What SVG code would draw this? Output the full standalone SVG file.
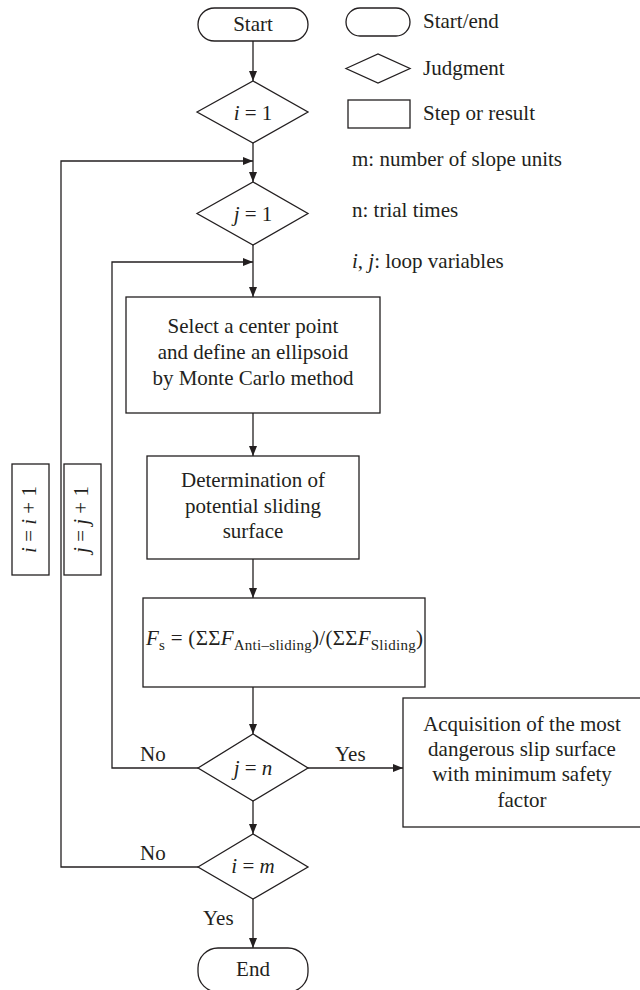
<svg xmlns="http://www.w3.org/2000/svg" width="640" height="990" viewBox="0 0 640 990">
<defs>
<style>
.s{fill:#fff;stroke:#231f20;stroke-width:1.3}
.c{fill:none;stroke:#231f20;stroke-width:1.3}
text{font-family:"Liberation Serif","Times New Roman",serif;font-size:21px;fill:#231f20}
.m{text-anchor:middle}
.i{font-style:italic}
.sub{font-size:15px}
</style>
<marker id="a" markerUnits="userSpaceOnUse" markerWidth="10" markerHeight="8" refX="10" refY="4" orient="auto">
<path d="M0,0 L10,4 L0,8 z" fill="#231f20"/>
</marker>
</defs>
<rect width="640" height="990" fill="#fff"/>

<g id="connectors">
<path class="c" d="M253,41 V81" marker-end="url(#a)"/>
<path class="c" d="M253,143 V182" marker-end="url(#a)"/>
<path class="c" d="M198,867 H61 V161 H253" marker-end="url(#a)"/>
<path class="c" d="M253,245 V297" marker-end="url(#a)"/>
<path class="c" d="M198,768 H112 V262 H253" marker-end="url(#a)"/>
<path class="c" d="M253,413 V456" marker-end="url(#a)"/>
<path class="c" d="M253,559 V598" marker-end="url(#a)"/>
<path class="c" d="M253,687 V734" marker-end="url(#a)"/>
<path class="c" d="M308,768 H403" marker-end="url(#a)"/>
<path class="c" d="M253,801 V834" marker-end="url(#a)"/>
<path class="c" d="M253,899 V948" marker-end="url(#a)"/>
<text x="140" y="761">No</text>
<text x="335" y="761">Yes</text>
<text x="140" y="860">No</text>
<text x="203" y="925">Yes</text>
</g>

<g id="start">
<rect class="s" x="198" y="8" width="110" height="33" rx="16.5"/>
<text class="m" x="253" y="31">Start</text>
</g>
<g id="i1">
<polygon class="s" points="197,112 253,81 308,112 253,143"/>
<text class="m" x="253" y="120"><tspan class="i">i</tspan> = 1</text>
</g>
<g id="j1">
<polygon class="s" points="197,213.5 253,182 308,213.5 253,245"/>
<text class="m" x="253" y="221"><tspan class="i">j</tspan> = 1</text>
</g>
<g id="select">
<rect class="s" x="126" y="297" width="254" height="116"/>
<text class="m" x="253" y="333">Select a center point</text>
<text class="m" x="253" y="359">and define an ellipsoid</text>
<text class="m" x="253" y="385">by Monte Carlo method</text>
</g>
<g id="determine">
<rect class="s" x="147" y="456" width="212" height="103"/>
<text class="m" x="253" y="487">Determination of</text>
<text class="m" x="253" y="513">potential sliding</text>
<text class="m" x="253" y="538">surface</text>
</g>
<g id="fs">
<rect class="s" x="143" y="598" width="282" height="89"/>
<text x="146" y="645" textLength="277" lengthAdjust="spacing"><tspan class="i">F</tspan><tspan class="sub" dy="5">s</tspan><tspan dy="-5"> = (ΣΣ</tspan><tspan class="i">F</tspan><tspan class="sub" dy="5">Anti–sliding</tspan><tspan dy="-5">)/(ΣΣ</tspan><tspan class="i">F</tspan><tspan class="sub" dy="5">Sliding</tspan><tspan dy="-5">)</tspan></text>
</g>
<g id="jn">
<polygon class="s" points="198,768 253,734 308,768 253,801"/>
<text class="m" x="253" y="775"><tspan class="i">j</tspan> = <tspan class="i">n</tspan></text>
</g>
<g id="result">
<rect class="s" x="403" y="698" width="240" height="129"/>
<text class="m" x="522" y="731">Acquisition of the most</text>
<text class="m" x="522" y="756">dangerous slip surface</text>
<text class="m" x="522" y="781">with minimum safety</text>
<text class="m" x="522" y="807">factor</text>
</g>
<g id="im">
<polygon class="s" points="198,867 253,834 308,867 253,899"/>
<text class="m" x="253" y="873"><tspan class="i">i</tspan> = <tspan class="i">m</tspan></text>
</g>
<g id="end">
<rect class="s" x="198" y="948" width="110" height="44" rx="20"/>
<text class="m" x="253" y="976">End</text>
</g>
<g id="iinc">
<rect class="s" x="12" y="464" width="37" height="111"/>
<text class="m" transform="translate(36,519.5) rotate(-90)"><tspan class="i">i</tspan> = <tspan class="i">i</tspan> + 1</text>
</g>
<g id="jinc">
<rect class="s" x="64" y="464" width="37" height="111"/>
<text class="m" transform="translate(88,519.5) rotate(-90)"><tspan class="i">j</tspan> = <tspan class="i">j</tspan> + 1</text>
</g>

<g id="legend">
<rect class="s" x="346" y="8" width="64" height="28" rx="14"/>
<text x="423" y="28">Start/end</text>
<polygon class="s" points="346,68.5 378,54 410,68.5 378,83"/>
<text x="423" y="75">Judgment</text>
<rect class="s" x="348" y="100" width="62" height="28"/>
<text x="423" y="120">Step or result</text>
<text x="352" y="166">m: number of slope units</text>
<text x="352" y="217">n: trial times</text>
<text x="352" y="268"><tspan class="i">i</tspan>, <tspan class="i">j</tspan>: loop variables</text>
</g>
</svg>
